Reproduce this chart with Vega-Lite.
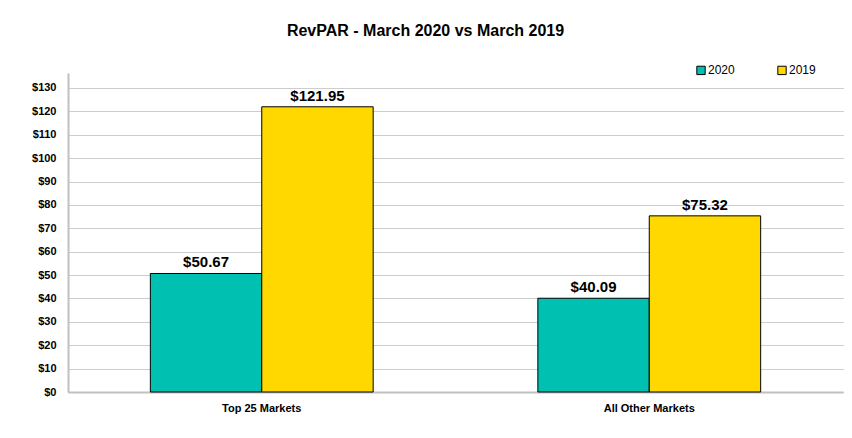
{
  "$schema": "https://vega.github.io/schema/vega-lite/v6.json",
  "width": 775,
  "height": 319,
  "autosize": {"type": "none"},
  "padding": {"left": 68, "top": 73, "right": 9, "bottom": 46},
  "background": "white",
  "title": {
    "text": "RevPAR - March 2020 vs March 2019",
    "font": "Liberation Sans",
    "fontSize": 16,
    "fontWeight": "bold",
    "color": "#000000",
    "offset": 25,
    "dx": -30
  },
  "data": {
    "values": [
      {"market": "Top 25 Markets", "year": "2020", "value": 50.67},
      {"market": "Top 25 Markets", "year": "2019", "value": 121.95},
      {"market": "All Other Markets", "year": "2020", "value": 40.09},
      {"market": "All Other Markets", "year": "2019", "value": 75.32}
    ]
  },
  "encoding": {
    "x": {
      "field": "market",
      "type": "nominal",
      "sort": ["Top 25 Markets", "All Other Markets"],
      "scale": {"paddingInner": 0.425, "paddingOuter": 0.2125},
      "axis": {
        "title": null,
        "labelAngle": 0,
        "labelFont": "Liberation Sans",
        "labelFontSize": 11,
        "labelFontWeight": "bold",
        "labelColor": "#000000",
        "labelPadding": 10,
        "ticks": false,
        "domainColor": "#c0c0c0",
        "domainWidth": 2,
        "grid": false
      }
    },
    "xOffset": {"field": "year", "type": "nominal", "sort": ["2020", "2019"], "scale": {"paddingInner": 0, "paddingOuter": 0}},
    "y": {
      "field": "value",
      "type": "quantitative",
      "scale": {"domain": [0, 136.4], "nice": false, "zero": true},
      "axis": {
        "title": null,
        "values": [0, 10, 20, 30, 40, 50, 60, 70, 80, 90, 100, 110, 120, 130],
        "format": "$,.0f",
        "labelFont": "Liberation Sans",
        "labelFontSize": 11,
        "labelFontWeight": "bold",
        "labelColor": "#000000",
        "labelPadding": 12,
        "ticks": false,
        "domainColor": "#c0c0c0",
        "domainWidth": 2,
        "grid": true,
        "gridColor": "#9a9a9a",
        "gridDash": [1, 1],
        "gridWidth": 1
      }
    }
  },
  "layer": [
    {
      "mark": {"type": "bar", "stroke": "#000000", "strokeWidth": 1},
      "encoding": {
        "color": {
          "field": "year",
          "type": "nominal",
          "sort": ["2020", "2019"],
          "scale": {"domain": ["2020", "2019"], "range": ["#00C0B2", "#FFD800"]},
          "legend": {
            "title": null,
            "orient": "none",
            "direction": "horizontal",
            "legendX": 627,
            "legendY": -9,
            "symbolType": "square",
            "symbolSize": 70,
            "symbolStrokeColor": "#000000",
            "symbolStrokeWidth": 1,
            "labelFont": "Liberation Sans",
            "labelFontSize": 12,
            "labelColor": "#000000",
            "labelOffset": 1,
            "columnPadding": 40
          }
        }
      }
    },
    {
      "mark": {
        "type": "text",
        "baseline": "bottom",
        "dy": -3,
        "font": "Liberation Sans",
        "fontSize": 15,
        "fontWeight": "bold",
        "color": "#000000"
      },
      "encoding": {
        "text": {"field": "value", "type": "quantitative", "format": "$,.2f"}
      }
    }
  ],
  "config": {
    "view": {"stroke": null},
    "title": {"anchor": "middle"}
  }
}
